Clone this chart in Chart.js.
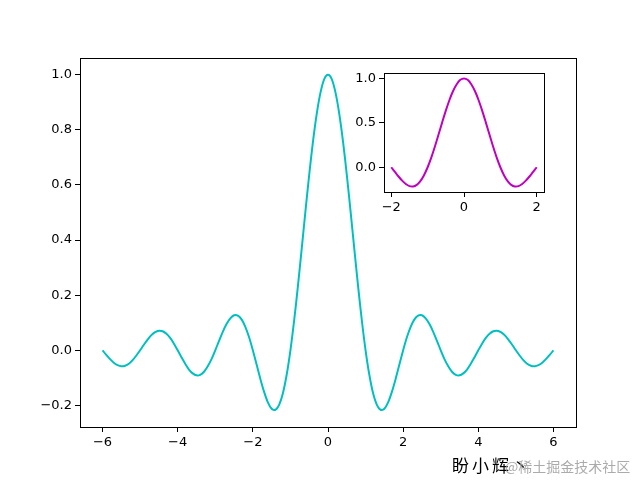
<!DOCTYPE html>
<html>
<head>
<meta charset="utf-8">
<script src="https://cdn.jsdelivr.net/npm/chart.js@4"></script>
<style>
  body { margin: 0; background: #fff; }
  #wrap { position: relative; width: 640px; height: 490px; }
  #wrap canvas { position: absolute; left: 0; top: 0; }
</style>
</head>
<body>
<div id="wrap">
  <canvas id="main" width="640" height="490"></canvas>
  <canvas id="inset" width="640" height="490"></canvas>
</div>
<script>
// valores (x de -6 a 6, paso 0.1)
var xs = [-6.0,-5.9,-5.8,-5.7,-5.6,-5.5,-5.4,-5.3,-5.2,-5.1,-5.0,-4.9,-4.8,-4.7,-4.6,-4.5,-4.4,-4.3,-4.2,-4.1,-4.0,
  -3.9,-3.8,-3.7,-3.6,-3.5,-3.4,-3.3,-3.2,-3.1,-3.0,-2.9,-2.8,-2.7,-2.6,-2.5,-2.4,-2.3,-2.2,-2.1,-2.0,
  -1.9,-1.8,-1.7,-1.6,-1.5,-1.4,-1.3,-1.2,-1.1,-1.0,-0.9,-0.8,-0.7,-0.6,-0.5,-0.4,-0.3,-0.2,-0.1,0.0,
  0.1,0.2,0.3,0.4,0.5,0.6,0.7,0.8,0.9,1.0,1.1,1.2,1.3,1.4,1.5,1.6,1.7,1.8,1.9,2.0,
  2.1,2.2,2.3,2.4,2.5,2.6,2.7,2.8,2.9,3.0,3.1,3.2,3.3,3.4,3.5,3.6,3.7,3.8,3.9,4.0,
  4.1,4.2,4.3,4.4,4.5,4.6,4.7,4.8,4.9,5.0,5.1,5.2,5.3,5.4,5.5,5.6,5.7,5.8,5.9,6.0];
var ys = [0.000,-0.017,-0.032,-0.045,-0.054,-0.058,-0.056,-0.049,-0.036,-0.019,0.000,0.020,0.039,0.055,0.066,0.071,0.069,0.060,0.045,0.024,0.000,
  -0.025,-0.049,-0.070,-0.084,-0.091,-0.089,-0.078,-0.058,-0.032,0.000,0.034,0.067,0.095,0.116,0.127,0.126,0.112,0.085,0.047,0.000,
  -0.052,-0.104,-0.151,-0.189,-0.212,-0.216,-0.198,-0.156,-0.089,0.000,0.109,0.234,0.368,0.505,0.637,0.757,0.858,0.935,0.984,1.000,
  0.984,0.935,0.858,0.757,0.637,0.505,0.368,0.234,0.109,0.000,-0.089,-0.156,-0.198,-0.216,-0.212,-0.189,-0.151,-0.104,-0.052,0.000,
  0.047,0.085,0.112,0.126,0.127,0.116,0.095,0.067,0.034,0.000,-0.032,-0.058,-0.078,-0.089,-0.091,-0.084,-0.070,-0.049,-0.025,0.000,
  0.024,0.045,0.060,0.069,0.071,0.066,0.055,0.039,0.020,0.000,-0.019,-0.036,-0.049,-0.056,-0.058,-0.054,-0.045,-0.032,-0.017,0.000];

// ticks
var xTicks = [-6, -4, -2, 0, 2, 4, 6];
var yTicks = [-0.2, 0.0, 0.2, 0.4, 0.6, 0.8, 1.0];
var insetXTicks = [-2, 0, 2];
var insetYTicks = [0.0, 0.5, 1.0];

var fuente = { family: "'DejaVu Sans'", size: 13 };

function puntos(desde, hasta) {
    var out = [];
    for (var i = 0; i < xs.length; i++) {
        if (xs[i] >= desde - 1e-9 && xs[i] <= hasta + 1e-9) out.push({ x: xs[i], y: ys[i] });
    }
    return out;
}

function fmt(v, dec) {
    var s = Math.abs(v).toFixed(dec);
    return (v < -1e-9 ? "\u2212" : "") + s;
}

function eje(min, max, ticks, dec, pos, tam) {
    return {
        type: 'linear',
        position: pos,
        min: min,
        max: max,
        afterBuildTicks: function (scale) {
            scale.ticks = ticks.map(function (v) { return { value: v }; });
        },
        afterFit: function (scale) {
            if (pos === 'left') scale.width = tam; else scale.height = tam;
        },
        ticks: {
            color: '#000',
            font: fuente,
            padding: 3,
            maxRotation: 0,
            autoSkip: false,
            callback: function (v) { return fmt(v, dec); }
        },
        grid: {
            drawOnChartArea: false,
            drawTicks: true,
            tickLength: 5,
            color: '#000'
        },
        border: { display: true, color: '#000', width: 1 }
    };
}

// marco completo y fondo blanco del area
var marco = {
    id: 'marco',
    beforeDatasetsDraw: function (chart) {
        var a = chart.chartArea, ctx = chart.ctx;
        ctx.save();
        ctx.strokeStyle = '#000';
        ctx.lineWidth = 1;
        ctx.strokeRect(a.left + 0.5, a.top + 0.5, a.right - a.left, a.bottom - a.top);
        ctx.restore();
    }
};

var fondo = {
    id: 'fondo',
    beforeDraw: function (chart) {
        var a = chart.chartArea, ctx = chart.ctx;
        ctx.save();
        ctx.fillStyle = '#fff';
        ctx.fillRect(a.left, a.top, a.right - a.left, a.bottom - a.top);
        ctx.restore();
    }
};

var marcaAgua = {
    id: 'marcaAgua',
    afterDraw: function (chart) {
        var ctx = chart.ctx;
        ctx.save();
        ctx.textBaseline = 'alphabetic';
        ctx.fillStyle = '#000';
        ctx.font = "17px 'Noto Sans CJK SC'";
        ctx.fillText("盼", 452, 472);
        ctx.fillText("小", 472, 472);
        ctx.fillText("辉", 492, 472);
        ctx.fillText("丶", 512, 472);
        ctx.fillStyle = 'rgba(150,150,150,0.8)';
        ctx.font = "14px 'Noto Sans CJK SC'";
        ctx.fillText("@稀土掘金技术社区", 505, 472);
        ctx.restore();
    }
};

new Chart(document.getElementById('main'), {
    type: 'line',
    data: {
        datasets: [{
            data: puntos(-6, 6),
            borderColor: '#00bfbf',
            borderWidth: 2,
            pointRadius: 0,
            tension: 0.3
        }]
    },
    options: {
        responsive: false,
        animation: false,
        layout: { padding: { left: 0, right: 64, top: 58, bottom: 33 } },
        plugins: { legend: { display: false }, tooltip: { enabled: false } },
        scales: {
            x: eje(-6.6, 6.6, xTicks, 0, 'bottom', 30),
            y: eje(-0.2785, 1.0608, yTicks, 1, 'left', 80)
        }
    },
    plugins: [fondo, marco, marcaAgua]
});

new Chart(document.getElementById('inset'), {
    type: 'line',
    data: {
        datasets: [{
            data: puntos(-2, 2),
            borderColor: '#bf00bf',
            borderWidth: 2,
            pointRadius: 0,
            tension: 0.3
        }]
    },
    options: {
        responsive: false,
        animation: false,
        layout: { padding: { left: 0, right: 96, top: 73, bottom: 268 } },
        plugins: { legend: { display: false }, tooltip: { enabled: false } },
        scales: {
            x: eje(-2.2, 2.2, insetXTicks, 0, 'bottom', 30),
            y: eje(-0.2785, 1.0608, insetYTicks, 1, 'left', 384)
        }
    },
    plugins: [fondo, marco]
});
</script>
</body>
</html>
